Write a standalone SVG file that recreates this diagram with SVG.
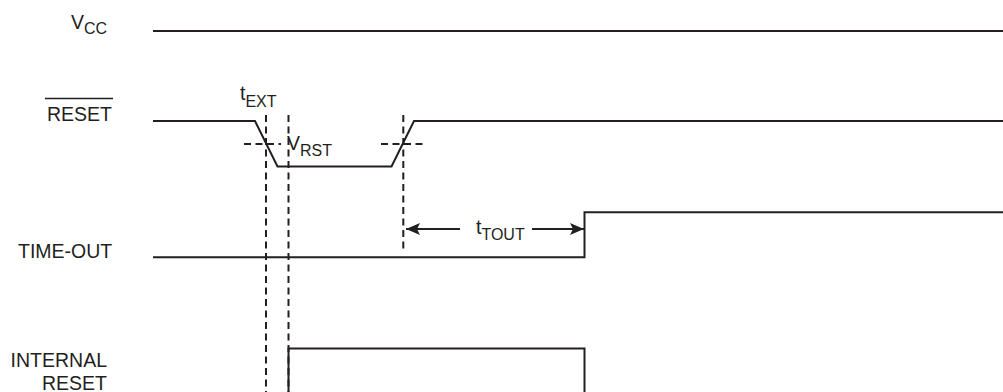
<svg xmlns="http://www.w3.org/2000/svg" width="1003" height="392" viewBox="0 0 1003 392">
<style>
.sig{fill:none;stroke:#231f20;stroke-width:2;stroke-linejoin:miter}
.dash{fill:none;stroke:#231f20;stroke-width:2;stroke-dasharray:7 4.5}
.arr{fill:none;stroke:#231f20;stroke-width:2}
text{font-family:"Liberation Sans",Arial,sans-serif;fill:#231f20;font-size:19.5px}
.sub{font-size:16px}
</style>
<defs>
<marker id="ah" viewBox="0 0 14 12" refX="14" refY="6" markerWidth="14" markerHeight="12" markerUnits="userSpaceOnUse" orient="auto-start-reverse">
<path d="M0,0 L14,6 L0,12 L3,6 Z" fill="#231f20"/>
</marker>
</defs>
<rect width="1003" height="392" fill="#fff"/>
<g id="vcc">
<text x="71" y="29">V<tspan class="sub" dy="5">CC</tspan></text>
<path class="sig" d="M153,31 H1003"/>
</g>
<g id="reset">
<text x="47" y="121">RESET</text>
<path d="M45,98.5 H113" stroke="#231f20" stroke-width="1.6"/>
<path class="sig" d="M153,121 H255 L277.5,166.5 H391.5 L414,121 H1003"/>
</g>
<g id="timeout">
<text x="18" y="258">TIME-OUT</text>
<path class="sig" d="M153,257.3 H584.5 V212.3 H1003"/>
</g>
<g id="internal-reset">
<text x="107" y="367" text-anchor="end">INTERNAL</text>
<text x="107" y="390" text-anchor="end">RESET</text>
<path class="sig" d="M288.5,393 V348.5 H584.5 V393"/>
</g>
<g id="connectors">
<path class="dash" d="M266,115 V392"/>
<path class="dash" d="M288.5,115 V392"/>
<path class="dash" d="M403.3,115 V252"/>
<path class="dash" d="M244,144 H281"/>
<path class="dash" d="M381,144 H427"/>
<path class="arr" d="M460,229 H406" marker-end="url(#ah)"/>
<path class="arr" d="M532,229 H584" marker-end="url(#ah)"/>
</g>
<g id="labels">
<text x="240" y="100">t<tspan class="sub" dy="7">EXT</tspan></text>
<text x="287" y="149.5">V<tspan class="sub" dy="6.5">RST</tspan></text>
<text x="476" y="233.5">t<tspan class="sub" dy="6.5">TOUT</tspan></text>
</g>
</svg>
